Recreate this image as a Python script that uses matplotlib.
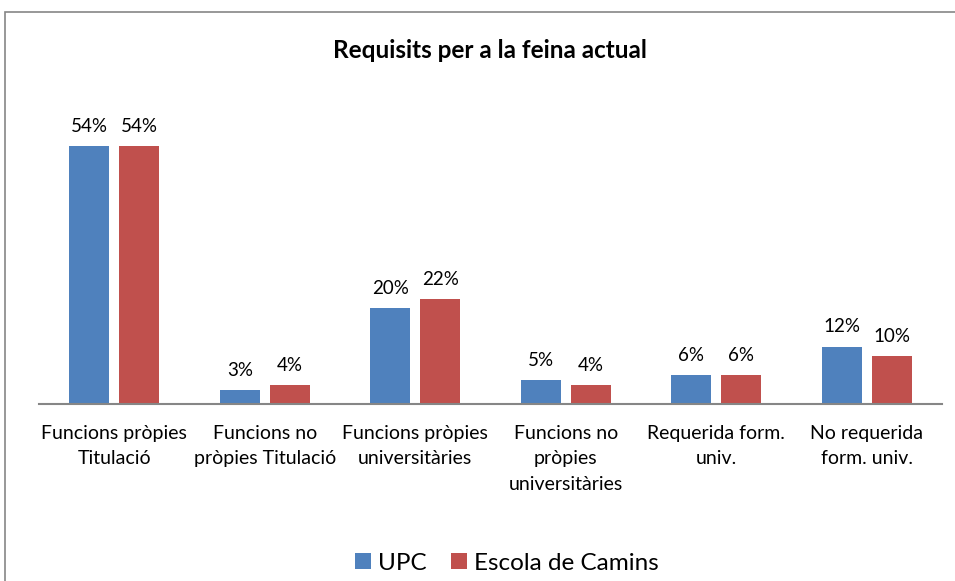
import matplotlib
matplotlib.use("Agg")
import matplotlib.pyplot as plt
import numpy as np
from matplotlib.patches import Rectangle

categories = ["Funcions pròpies\nTitulació", "Funcions no\npròpies Titulació",
              "Funcions pròpies\nuniversitàries", "Funcions no\npròpies\nuniversitàries",
              "Requerida form.\nuniv.", "No requerida\nform. univ."]
upc = [54, 3, 20, 5, 6, 12]
camins = [54, 4, 22, 4, 6, 10]
series_names = ["UPC", "Escola de Camins"]
colors = ["#4F81BD", "#C0504D"]

plt.rcParams['font.family'] = ['Lato', 'DejaVu Sans']
W, H = 955, 581
fig = plt.figure(figsize=(W/100, H/100), dpi=100)

# outer frame
fig.patches.append(Rectangle((5/W, -0.1), 1.2, 1.1 - 12/H, transform=fig.transFigure,
                             fill=False, edgecolor="#868686", linewidth=1.2))

left, right = 39, 942
base, top = 404, 117
ax = fig.add_axes([left/W, 1 - base/H, (right-left)/W, (base-top)/H])
x = np.arange(len(categories))
bw = 0.266
off = 0.166
b1 = ax.bar(x - off, upc, bw, color=colors[0], label=series_names[0])
b2 = ax.bar(x + off, camins, bw, color=colors[1], label=series_names[1])
for bars, vals in ((b1, upc), (b2, camins)):
    for r, v in zip(bars, vals):
        ax.annotate(f"{v}%", (r.get_x() + r.get_width()/2, v), xytext=(0, 8),
                    textcoords="offset points", ha="center", va="bottom", fontsize=13.5)
ax.set_xlim(-0.5, len(categories) - 0.5)
ax.set_ylim(0, 60)
ax.set_xticks(x)
ax.set_xticklabels(categories, fontsize=14, linespacing=1.6)
ax.tick_params(axis='x', length=0, pad=15)
ax.set_yticks([])
for s in ("top", "right", "left"):
    ax.spines[s].set_visible(False)
ax.spines["bottom"].set_color("#868686")
ax.spines["bottom"].set_linewidth(1.5)

fig.text(490/W, 1 - 50/H, "Requisits per a la feina actual", ha="center", va="center",
         fontsize=17.5, fontweight="bold")
fig.legend(handles=[b1, b2], loc="center", bbox_to_anchor=(507/W, 1 - 563/H), ncol=2,
           frameon=False, fontsize=17.5, handlelength=0.65, handleheight=0.65,
           handletextpad=0.3, columnspacing=1.0)
fig.savefig("out.png", dpi=100)
